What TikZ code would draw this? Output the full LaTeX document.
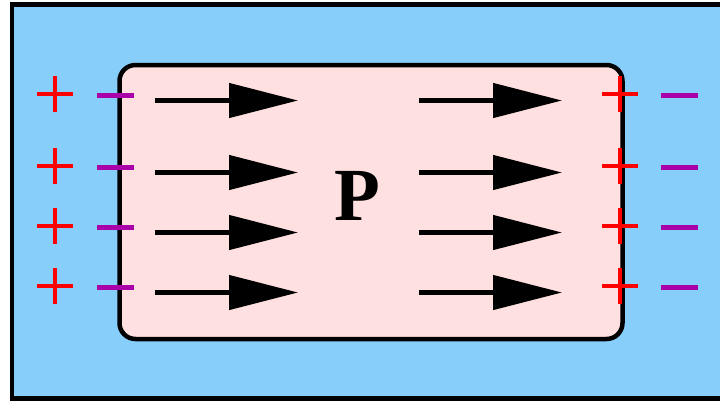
\documentclass[tikz,border=0pt]{standalone}
\usepackage{fontspec}
\setmainfont{Liberation Serif}
\usetikzlibrary{arrows.meta}

\definecolor{medium}{HTML}{87CEFA}
\definecolor{slab}{HTML}{FFE0E0}
\definecolor{negcol}{HTML}{AA00AA}

\begin{document}
\begin{tikzpicture}[x=1pt, y=-1pt,
    frame/.style={draw=black, line width=4.5pt},
    field/.style={-{Triangle[length=69pt, width=34pt]}, line width=4.5pt},
    poscharge/.style={red, line width=4pt},
    negcharge/.style={negcol, line width=4.3pt}
  ]
    \useasboundingbox (0,0) rectangle (720,400);
    \clip (0,0) rectangle (720,400);

    % surrounding medium
    \fill[white] (0,0) rectangle (720,400);
    \draw[frame, fill=medium] (12,4.5) rectangle (740,398.5);

    % polarized slab
    \draw[frame, fill=slab, rounded corners=16pt] (119.5,65) rectangle (622.5,339);
    \node[font=\fontsize{75}{75}\selectfont\bfseries] (P) at (357,196) {P};

    % field arrows and surface charges
    \foreach \y in {94,166,226,286} {
      \draw[field] (155,\y+6.5) -- (298,\y+6.5);
      \draw[field] (419,\y+6.5) -- (562,\y+6.5);
      \draw[negcharge] (97,\y+1.5) -- (134,\y+1.5);
      \draw[negcharge] (661,\y+1.5) -- (698,\y+1.5);
      \draw[poscharge] (37,\y) -- (73,\y) (55,\y-18) -- (55,\y+18);
      \draw[poscharge] (602,\y) -- (638,\y) (620,\y-18) -- (620,\y+18);
    }
  \end{tikzpicture}
\end{document}
